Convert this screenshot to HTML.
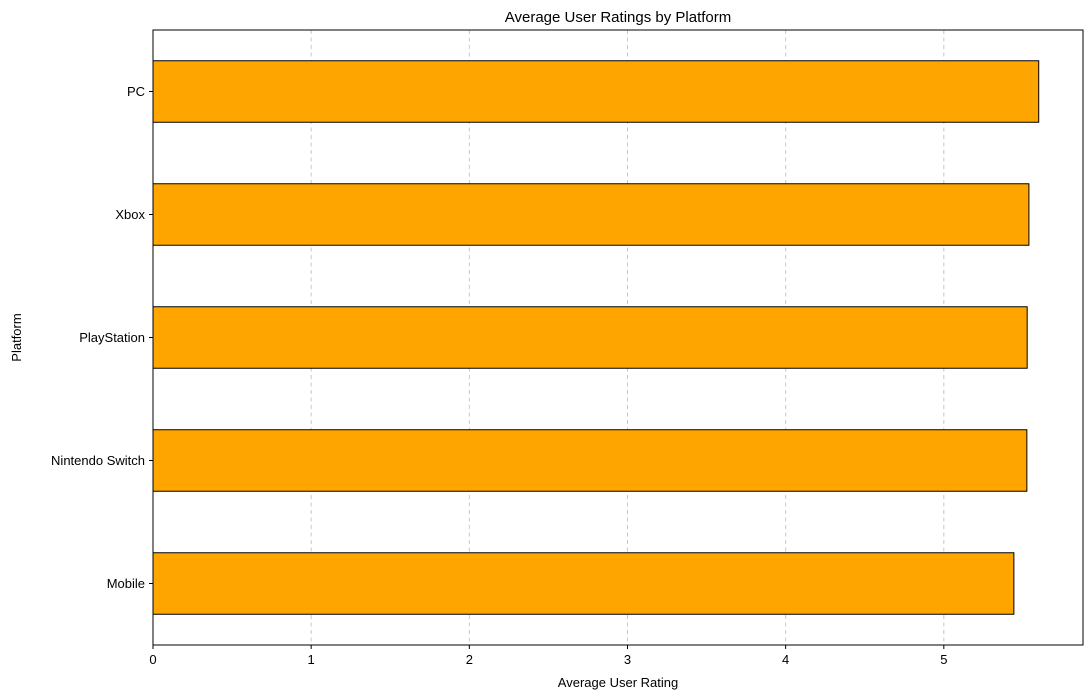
<!DOCTYPE html>
<html><head><meta charset="utf-8"><style>
body{margin:0;background:#fff;}
svg{display:block;font-family:"Liberation Sans","DejaVu Sans",sans-serif;}
</style></head><body>
<svg id="chart" width="1092" height="699"></svg>
<script>
const categories = ["Mobile","Nintendo Switch","PlayStation","Xbox","PC"];
const ratings = [5.443, 5.525, 5.527, 5.538, 5.60];
const xTicks = [0,1,2,3,4,5];
const NS="http://www.w3.org/2000/svg";
const svg=document.getElementById('chart');
const L=153,R=1083,T=30,B=645;
const xMax=Math.max(...ratings)*1.05;
const xs=v=>L+(R-L)*v/xMax;
const n=categories.length;
const yMin=-0.5,yMax=n-0.5;
const ys=i=>B-(B-T)*(i-yMin)/(yMax-yMin);
const bh=(B-T)/(yMax-yMin)*0.5;
function el(tag,attrs,parent){const e=document.createElementNS(NS,tag);for(const k in attrs)e.setAttribute(k,attrs[k]);(parent||svg).appendChild(e);return e;}
// grid
xTicks.forEach(t=>{
  const g=el('line',{x1:xs(t),x2:xs(t),y1:T,y2:B,stroke:'#b0b0b0','stroke-width':1,'stroke-dasharray':'4,3.5','stroke-opacity':0.7});
  
  
});
// bars
categories.forEach((c,i)=>{
  const r=el('rect',{x:xs(0),y:ys(i)-bh/2,width:xs(ratings[i])-xs(0),height:bh,fill:'#ffa500',stroke:'#000','stroke-width':1});
  
  
  const tk=el('line',{x1:L-4,x2:L,y1:ys(i),y2:ys(i),stroke:'#000'});
  
  
  const lb=el('text',{x:L-8,y:ys(i)+4.5,'text-anchor':'end','font-size':13,fill:'#000'});
  lb.textContent=c;
  
  
});
// frame
const fr=el('rect',{x:L,y:T,width:R-L,height:B-T,fill:'none',stroke:'#000','stroke-width':1});


xTicks.forEach(t=>{
  const tk=el('line',{x1:xs(t),x2:xs(t),y1:B,y2:B+4,stroke:'#000'});
  
  
  const lb=el('text',{x:xs(t),y:B+19,'text-anchor':'middle','font-size':13});
  lb.textContent=t;
  
  
});
const title=el('text',{x:(L+R)/2,y:22,'text-anchor':'middle','font-size':15});
title.textContent='Average User Ratings by Platform';


const xt=el('text',{x:(L+R)/2,y:687,'text-anchor':'middle','font-size':13});
xt.textContent='Average User Rating';


const yt=el('text',{x:21,y:(T+B)/2,'text-anchor':'middle','font-size':13,transform:`rotate(-90 21 ${(T+B)/2})`});
yt.textContent='Platform';


</script>
</body></html>
